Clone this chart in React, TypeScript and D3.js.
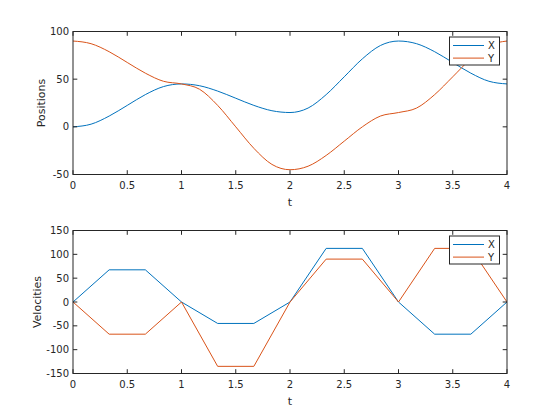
import React from "react";
import * as d3 from "d3";

const tPos = [0, 0.1667, 0.3333, 0.5, 0.6667, 0.8333, 1, 1.1667, 1.3333, 1.5, 1.6667, 1.8333, 2, 2.1667, 2.3333, 2.5, 2.6667, 2.8333, 3, 3.1667, 3.3333, 3.5, 3.6667, 3.8333, 4];
const posX = [0, 2.8, 11.3, 22.5, 33.8, 42.2, 45, 43.1, 37.5, 30, 22.5, 16.9, 15, 19.7, 33.8, 52.5, 71.3, 85.3, 90, 87.2, 78.8, 67.5, 56.3, 47.8, 45];
const posY = [90, 87.2, 78.8, 67.5, 56.3, 47.8, 45, 39.4, 22.5, 0, -22.5, -39.4, -45, -41.3, -30, -15, 0, 11.3, 15, 19.7, 33.8, 52.5, 71.3, 85.3, 90];

const tVel = [0, 0.3333, 0.6667, 1, 1.3333, 1.6667, 2, 2.3333, 2.6667, 3, 3.3333, 3.6667, 4];
const velX = [0, 67.5, 67.5, 0, -45, -45, 0, 112.5, 112.5, 0, -67.5, -67.5, 0];
const velY = [0, -67.5, -67.5, 0, -135, -135, 0, 90, 90, 0, 112.5, 112.5, 0];

const xTicks = [0, 0.5, 1, 1.5, 2, 2.5, 3, 3.5, 4];
const posTicks = [-50, 0, 50, 100];
const velTicks = [-150, -100, -50, 0, 50, 100, 150];
const seriesNames = ["X", "Y"];
const colors = ["#0072BD", "#D95319"];

const W = 560, H = 420;
const L = 73, R = 507;
const FONT = "DejaVu Sans, sans-serif";
const AX = "#262626";

type PanelProps = {
  top: number; bottom: number; domain: [number, number]; yTicks: number[];
  t: number[]; series: number[][]; ylabel: string; curve: any; clipId: string;
};

function Panel({ top, bottom, domain, yTicks, t, series, ylabel, curve, clipId }: PanelProps) {
  const x = d3.scaleLinear().domain([0, 4]).range([L, R]);
  const y = d3.scaleLinear().domain(domain).range([bottom, top]);
  const tl = 4.3;
  const lines = series.map((s) =>
    d3.line<number>().x((_, i) => x(t[i])).y((v) => y(v)).curve(curve)(s) as string
  );
  const lx0 = 449.5, ly0 = top + 5.5, lw = 50, lh = 28;
  return (
    <g>
      <defs>
        <clipPath id={clipId}><rect x={L} y={top} width={R - L} height={bottom - top} /></clipPath>
      </defs>
      <rect x={L} y={top} width={R - L} height={bottom - top} fill="#fff" />
      <g clipPath={`url(#${clipId})`}>
        {lines.map((d, i) => (
          <path key={i} d={d} fill="none" stroke={colors[i]} strokeWidth={1} />
        ))}
      </g>
      {xTicks.map((v) => (
        <g key={"x" + v}>
          <line x1={x(v)} x2={x(v)} y1={bottom} y2={bottom - tl} stroke={AX} />
          <line x1={x(v)} x2={x(v)} y1={top} y2={top + tl} stroke={AX} />
          <text x={x(v)} y={bottom + 14.5} textAnchor="middle" fontSize={10} fill={AX} fontFamily={FONT}>{v}</text>
        </g>
      ))}
      {yTicks.map((v) => (
        <g key={"y" + v}>
          <line x1={L} x2={L + tl} y1={y(v)} y2={y(v)} stroke={AX} />
          <line x1={R} x2={R - tl} y1={y(v)} y2={y(v)} stroke={AX} />
          <text x={L - 4} y={y(v) + 3.5} textAnchor="end" fontSize={10} fill={AX} fontFamily={FONT}>{v}</text>
        </g>
      ))}
      <rect x={L} y={top} width={R - L} height={bottom - top} fill="none" stroke={AX} strokeWidth={1} />
      <text x={x(2)} y={bottom + 31} textAnchor="middle" fontSize={11} fill={AX} fontFamily={FONT}>t</text>
      <text transform={`translate(${ylabel === "Positions" ? 45 : 41},${(top + bottom) / 2}) rotate(-90)`} textAnchor="middle" fontSize={11} fill={AX} fontFamily={FONT}>{ylabel}</text>
      <g>
        <rect x={lx0} y={ly0} width={lw} height={lh} fill="#fff" stroke={AX} strokeWidth={1} />
        {seriesNames.map((n, i) => (
          <g key={n}>
            <line x1={453} x2={484} y1={ly0 + 8.5 + i * 12.6} y2={ly0 + 8.5 + i * 12.6} stroke={colors[i]} strokeWidth={1} />
            <text x={488} y={ly0 + 12 + i * 12.6} fontSize={10} fill={AX} fontFamily={FONT}>{n}</text>
          </g>
        ))}
      </g>
    </g>
  );
}

export default function App() {
  return (
    <svg width={W} height={H} style={{ position: "absolute", left: 0, top: 0, background: "#fff" }}>
      <rect width={W} height={H} fill="#fff" />
      <Panel top={31.5} bottom={174.5} domain={[-50, 100]} yTicks={posTicks} t={tPos} series={[posX, posY]} ylabel="Positions" curve={d3.curveMonotoneX} clipId="c1" />
      <Panel top={230.5} bottom={373.5} domain={[-150, 150]} yTicks={velTicks} t={tVel} series={[velX, velY]} ylabel="Velocities" curve={d3.curveLinear} clipId="c2" />
    </svg>
  );
}
